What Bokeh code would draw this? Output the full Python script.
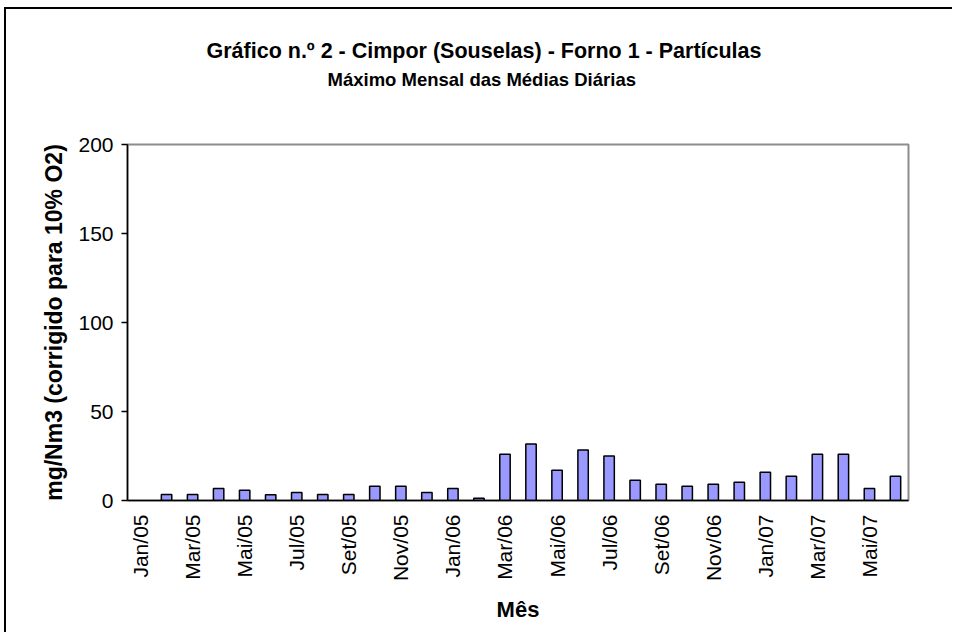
import math
from bokeh.plotting import figure
from bokeh.models import Range1d, FixedTicker, Title
from bokeh.embed import file_html
from bokeh.resources import INLINE

months = ["Jan/05", "Fev/05", "Mar/05", "Abr/05", "Mai/05", "Jun/05",
          "Jul/05", "Ago/05", "Set/05", "Out/05", "Nov/05", "Dez/05",
          "Jan/06", "Fev/06", "Mar/06", "Abr/06", "Mai/06", "Jun/06",
          "Jul/06", "Ago/06", "Set/06", "Out/06", "Nov/06", "Dez/06",
          "Jan/07", "Fev/07", "Mar/07", "Abr/07", "Mai/07", "Jun/07"]
values = [float("nan"), 3.4, 3.4, 6.8, 5.7, 3.2,
          4.5, 3.4, 3.4, 8.0, 8.0, 4.5,
          6.8, 1.3, 26.0, 31.7, 17.0, 28.4,
          25.0, 11.4, 9.1, 8.0, 9.1, 10.2,
          15.9, 13.6, 26.0, 26.0, 6.8, 13.6]
shown_labels = ["Jan/05", "Mar/05", "Mai/05", "Jul/05", "Set/05", "Nov/05",
                "Jan/06", "Mar/06", "Mai/06", "Jul/06", "Set/06", "Nov/06",
                "Jan/07", "Mar/07", "Mai/07"]
y_ticks = [0, 50, 100, 150, 200]

title1 = "Gráfico n.º 2  - Cimpor (Souselas) - Forno 1 - Partículas"
title2 = "Máximo Mensal das Médias Diárias"

FONT = "Liberation Sans"

idx = list(range(len(months)))
tick_idx = [months.index(m) for m in shown_labels]

p = figure(width=948, height=625, x_range=Range1d(-0.5, len(months) - 0.5),
           y_range=Range1d(0, 200), output_backend="svg", toolbar_location=None,
           min_border_left=121, min_border_right=46, min_border_top=135,
           min_border_bottom=134,
           styles={"margin-left": "4px", "margin-top": "7px",
                   "border-left": "2px solid black", "border-top": "2px solid black"})

p.vbar(x=idx, top=values, width=0.4, bottom=0, fill_color="#9999ff",
       line_color="black", line_width=1.5)

p.xgrid.visible = False
p.ygrid.visible = False
p.outline_line_color = "#8c8c8c"
p.outline_line_width = 2

# titles: spacer (innermost), second line, first line (outermost)
spacer = Title(text=" ", text_font_size="1px", standoff=52)
t2 = Title(text=title2, align="left", offset=200, text_font=FONT,
           text_font_size="18.5px", text_font_style="bold", text_color="black",
           standoff=0)
t1 = Title(text=title1, align="left", offset=79, text_font=FONT,
           text_font_size="21.5px", text_font_style="bold", text_color="black",
           standoff=8)
p.add_layout(spacer, "above")
p.add_layout(t2, "above")
p.add_layout(t1, "above")

# x axis
xa = p.xaxis[0]
xa.ticker = FixedTicker(ticks=tick_idx)
xa.major_label_overrides = {i: months[i] for i in tick_idx}
xa.major_label_orientation = math.pi / 2
xa.major_label_text_font = FONT
xa.major_label_text_font_size = "21px"
xa.major_label_text_color = "black"
xa.major_tick_out = 0
xa.major_tick_in = 0
xa.minor_tick_out = 0
xa.minor_tick_in = 0
xa.major_label_standoff = 14
xa.axis_line_color = "black"
xa.axis_line_width = 1.5
xa.axis_label = "Mês"
xa.axis_label_text_font = FONT
xa.axis_label_text_font_size = "22px"
xa.axis_label_text_font_style = "bold"
xa.axis_label_text_color = "black"
xa.axis_label_standoff = 13

# y axis
ya = p.yaxis[0]
ya.ticker = FixedTicker(ticks=y_ticks)
ya.major_label_text_font = FONT
ya.major_label_text_font_size = "21px"
ya.major_label_text_color = "black"
ya.major_tick_out = 6
ya.major_tick_in = 0
ya.minor_tick_out = 0
ya.minor_tick_in = 0
ya.major_tick_line_width = 1.5
ya.major_label_standoff = 8
ya.axis_line_color = "black"
ya.axis_line_width = 1.5
ya.axis_label = "mg/Nm3 (corrigido para 10% O2)"
ya.axis_label_text_font = FONT
ya.axis_label_text_font_size = "23px"
ya.axis_label_text_font_style = "bold"
ya.axis_label_text_color = "black"
ya.axis_label_standoff = 8

open("out.html", "w").write(file_html(p, INLINE))
